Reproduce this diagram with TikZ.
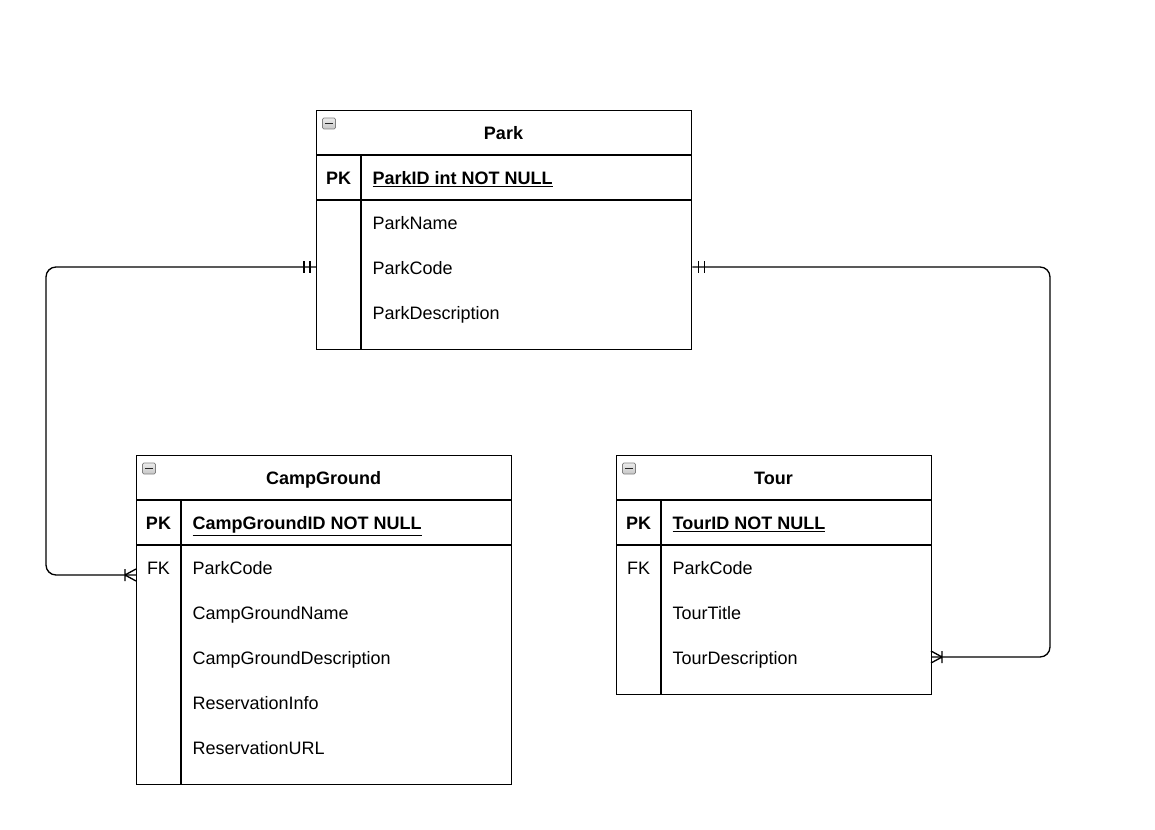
\documentclass[tikz,border=0pt]{standalone}
\usepackage{fontspec}
\setmainfont{Liberation Sans}
\begin{document}
\begin{tikzpicture}[x=0.75pt,y=-0.75pt,line width=1pt]
            \tikzstyle{tbl}=[draw, rectangle, inner sep=0pt, anchor=north west]
            \tikzstyle{txt}=[inner sep=0pt, text height=9.7pt, text depth=0pt, yshift=-0.75pt, font=\fontsize{13.5}{16}\selectfont]
            \tikzstyle{title}=[txt, font=\fontsize{13.5}{16}\selectfont\bfseries]
            \tikzstyle{field}=[txt, anchor=west]
            \tikzstyle{keyfield}=[title, anchor=west]
            \tikzstyle{icon}=[draw=gray, top color=gray!15, bottom color=gray!45, rounded corners=1pt, inner sep=0pt, minimum width=9.75pt, minimum height=8.25pt, line width=0.6pt]
            \tikzstyle{rel}=[rounded corners=7.5pt]
            \useasboundingbox (0,0) rectangle (1155,830);
            \node[tbl, minimum width=281.25pt, minimum height=179.25pt] (park) at (316,110) {};
            \draw (316,155) -- (691,155) (316,200) -- (691,200) (361,155) -- (361,349);
            \node[icon] (parkicon) at (329,123.5) {};
            \draw[gray!30!black, line width=1pt] ([xshift=2pt]parkicon.west) -- ([xshift=-2pt]parkicon.east);
            \node[title] (parktitle) at (503.5,132) {Park};
            \node[title] (parkpk) at (338.5,177) {PK};
            \node[keyfield] (parkid) at (372,177) {\underline{ParkID int NOT NULL}};
            \node[field] (pname) at (372,222) {ParkName};
            \node[field] (pcode) at (372,267) {ParkCode};
            \node[field] (pdesc) at (372,312) {ParkDescription};
            \node[tbl, minimum width=281.25pt, minimum height=246.75pt] (campground) at (136,455) {};
            \draw (136,500) -- (511,500) (136,545) -- (511,545) (181,500) -- (181,784);
            \node[icon] (cgicon) at (149,468.5) {};
            \draw[gray!30!black, line width=1pt] ([xshift=2pt]cgicon.west) -- ([xshift=-2pt]cgicon.east);
            \node[title] (cgtitle) at (323.5,477) {CampGround};
            \node[title] (cgpk) at (158.5,522) {PK};
            \node[keyfield] (cgid) at (192,522) {\underline{CampGroundID NOT NULL}};
            \node[txt] (cgfk) at (158.5,567) {FK};
            \node[field] (cgpark) at (192,567) {ParkCode};
            \node[field] (cgname) at (192,612) {CampGroundName};
            \node[field] (cgdesc) at (192,657) {CampGroundDescription};
            \node[field] (cginfo) at (192,702) {ReservationInfo};
            \node[field] (cgurl) at (192,747) {ReservationURL};
            \node[tbl, minimum width=236.25pt, minimum height=179.25pt] (tour) at (616,455) {};
            \draw (616,500) -- (931,500) (616,545) -- (931,545) (661,500) -- (661,694);
            \node[icon] (touricon) at (629,468.5) {};
            \draw[gray!30!black, line width=1pt] ([xshift=2pt]touricon.west) -- ([xshift=-2pt]touricon.east);
            \node[title] (tourtitle) at (773.5,477) {Tour};
            \node[title] (tourpk) at (638.5,522) {PK};
            \node[keyfield] (tourid) at (672,522) {\underline{TourID NOT NULL}};
            \node[txt] (tourfk) at (638.5,567) {FK};
            \node[field] (tpark) at (672,567) {ParkCode};
            \node[field] (ttitle) at (672,612) {TourTitle};
            \node[field] (tdesc) at (672,657) {TourDescription};
            \coordinate (cglink) at (136,575);
            \coordinate (tourlink) at (931,657);
            \draw[rel] (park.west |- 0,267) -| (46,575) -- (cglink);
            \draw[rel] (park.east |- 0,267) -| (1050,657) -- (tourlink);
            \draw (park.west |- 0,267) ++(-6,-6) -- ++(0,12) ++(-6,0) -- ++(0,-12);
            \draw (park.east |- 0,267) ++(6,-6) -- ++(0,12) ++(6,0) -- ++(0,-12);
            \draw (cglink) ++(-11,-6) -- ++(0,12) (cglink) ++(-11,0) -- ++(11,-6) (cglink) ++(-11,0) -- ++(11,6);
            \draw (tourlink) ++(11,-6) -- ++(0,12) (tourlink) ++(11,0) -- ++(-11,-6) (tourlink) ++(11,0) -- ++(-11,6);
        \end{tikzpicture}
\end{document}
